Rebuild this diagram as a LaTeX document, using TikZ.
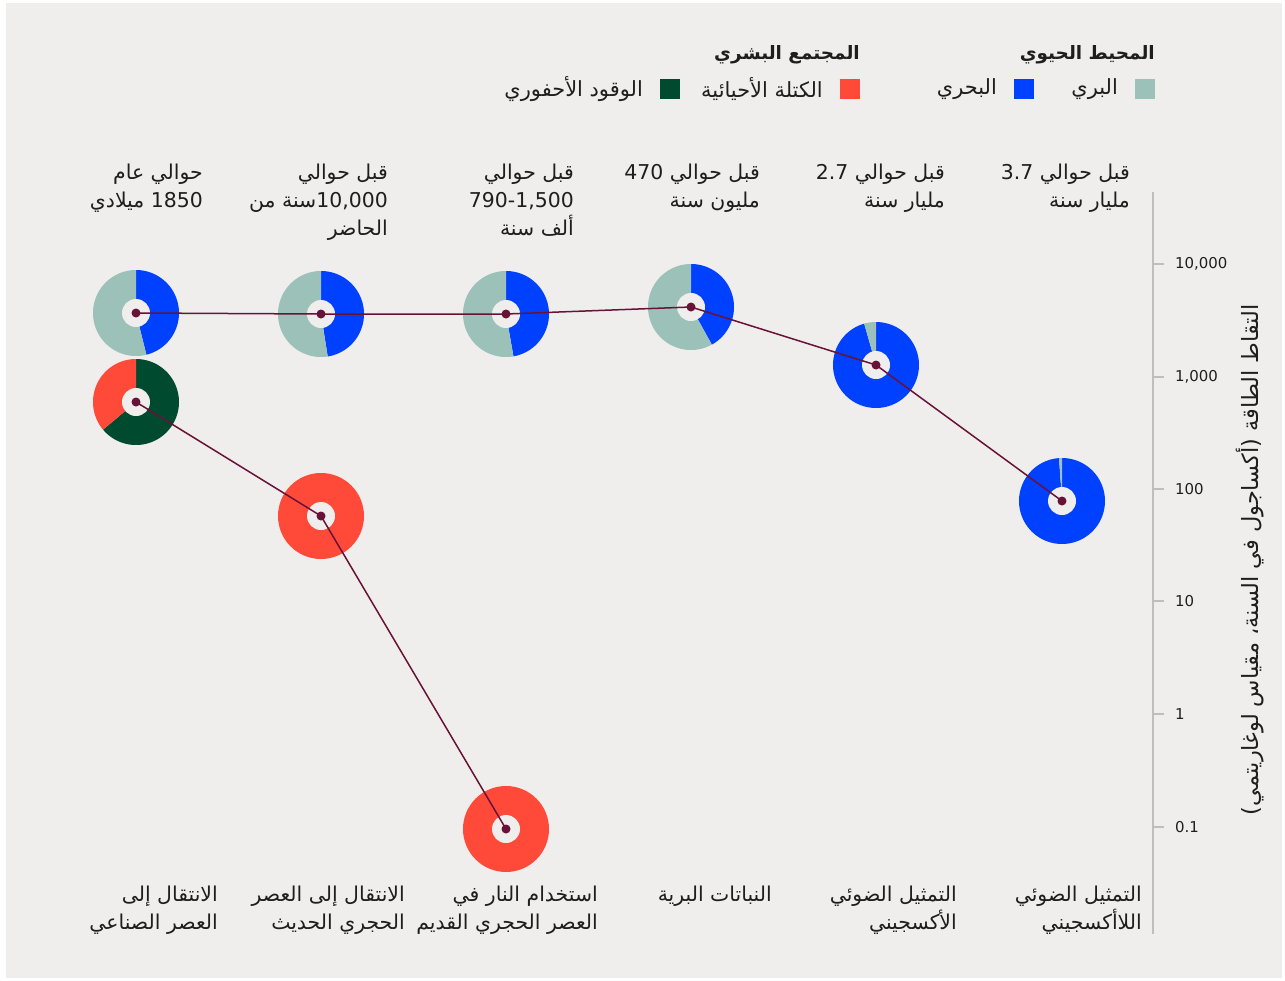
\documentclass[tikz,border=0pt]{standalone}
\usepackage{fontspec}
\setmainfont{DejaVu Sans}
\newfontfamily\arabicfont[Script=Arabic]{DejaVu Sans}
\TeXXeTstate=1
\newcommand\rl[1]{\beginR #1\endR}
\definecolor{bgc}{RGB}{239,238,236}
\definecolor{landc}{RGB}{156,193,185}
\definecolor{seac}{RGB}{0,65,255}
\definecolor{biomassc}{RGB}{255,74,58}
\definecolor{fossilc}{RGB}{0,74,48}
\definecolor{linec}{RGB}{104,18,56}
\definecolor{axisc}{RGB}{190,190,190}
\definecolor{txtc}{RGB}{30,30,30}
% annular sector: centre x, centre y, start angle, end angle, colour
% (angles in the flipped frame: -90 is straight up, increasing clockwise)
\newcommand\piesector[5]{%
  \fill[#5] plot[domain=#3:#4, samples=90, variable=\t]
    ({#1+43*cos(\t)},{#2+43*sin(\t)}) -- (#1,#2) -- cycle;}
\begin{document}
\begin{tikzpicture}[x=1bp,y=-1bp,
  lbl/.style={font=\arabicfont\fontsize{20.5}{28}\selectfont, text=txtc, align=right, inner sep=0pt},
  legtitle/.style={font=\arabicfont\bfseries\fontsize{18.5}{24}\selectfont, text=txtc, inner sep=0pt, anchor=east},
  legtext/.style={font=\arabicfont\fontsize{21}{24}\selectfont, text=txtc, inner sep=0pt, anchor=east},
  swatch/.style={minimum size=20bp, inner sep=0pt, draw=none},
  ticklbl/.style={font=\fontsize{15}{20}\selectfont, text=txtc, inner sep=0pt, anchor=west},
  dot/.style={circle, fill=linec, minimum size=9bp, inner sep=0pt},
  hole/.style={circle, fill=bgc, minimum size=28bp, inner sep=0pt},
  link/.style={draw=linec, line width=1.5bp}]
\useasboundingbox (0,0) rectangle (1285,981);
\fill[white] (0,0) rectangle (1285,981);
\fill[bgc] (6,3) rectangle (1282,978);

% ---- legend ----
\node[legtitle] (bioTitle) at (1155,55) {\rl{المحيط الحيوي}};
\node[legtitle] (humTitle) at (860,55) {\rl{المجتمع البشري}};
\node[swatch, fill=landc] (swLand) at (1145,89) {};
\node[legtext] (tLand) at (1118,89) {\rl{البري}};
\node[swatch, fill=seac] (swSea) at (1024,89) {};
\node[legtext] (tSea) at (997,89) {\rl{البحري}};
\node[swatch, fill=biomassc] (swBio) at (850,89) {};
\node[legtext] (tBio) at (823,89) {\rl{الكتلة الأحيائية}};
\node[swatch, fill=fossilc] (swFos) at (670,89) {};
\node[legtext] (tFos) at (643,89) {\rl{الوقود الأحفوري}};

% ---- time labels ----
\node[lbl, anchor=north east] (top1) at (203,164) {\rl{حوالي عام}\\\rl{1850 ميلادي}};
\node[lbl, anchor=north east] (top2) at (388,164) {\rl{قبل حوالي}\\\rl{10,000سنة من}\\\rl{الحاضر}};
\node[lbl, anchor=north east] (top3) at (574,164) {\rl{قبل حوالي}\\\beginL 790-1,500\endL\\\rl{ألف سنة}};
\node[lbl, anchor=north east] (top4) at (760,164) {\rl{قبل حوالي 470}\\\rl{مليون سنة}};
\node[lbl, anchor=north east] (top5) at (945,164) {\rl{قبل حوالي 2.7}\\\rl{مليار سنة}};
\node[lbl, anchor=north east] (top6) at (1130,164) {\rl{قبل حوالي 3.7}\\\rl{مليار سنة}};

% ---- event labels ----
\node[lbl, anchor=north east] (ev1) at (218,886) {\rl{الانتقال إلى}\\\rl{العصر الصناعي}};
\node[lbl, anchor=north east] (ev2) at (405,886) {\rl{الانتقال إلى العصر}\\\rl{الحجري الحديث}};
\node[lbl, anchor=north east] (ev3) at (598,886) {\rl{استخدام النار في}\\\rl{العصر الحجري القديم}};
\node[lbl, anchor=north east] (ev4) at (772,886) {\rl{النباتات البرية}};
\node[lbl, anchor=north east] (ev5) at (957,886) {\rl{التمثيل الضوئي}\\\rl{الأكسجيني}};
\node[lbl, anchor=north east] (ev6) at (1142,886) {\rl{التمثيل الضوئي}\\\rl{اللاأكسجيني}};

% ---- logarithmic axis ----
\draw[axisc, line width=1.3bp] (1153,192) -- (1153,934);
\foreach \yy/\val/\nm in {264/{10,000}/a4, 377/{1,000}/a3, 489/100/a2, 601/10/a1, 714/1/a0, 827/0.1/am}{
  \draw[axisc, line width=1.3bp] (1153,\yy) -- (1164,\yy);
  \node[ticklbl] (tick\nm) at (1175,\yy) {\val};
}
\node[font=\arabicfont\fontsize{22.5}{24}\selectfont, text=txtc, rotate=90, inner sep=0pt] (axTitle) at (1250,560)
  {\rl{التقاط الطاقة (أكساجول في السنة، مقياس لوغاريتمي)}};

% ---- biosphere pies ----
\coordinate (b1) at (136,313);
\coordinate (b2) at (321,314);
\coordinate (b3) at (506,314);
\coordinate (b4) at (691,307);
\coordinate (b5) at (876,365);
\coordinate (b6) at (1062,501);
\piesector{136}{313}{-90}{76}{seac}   \piesector{136}{313}{76}{270}{landc}
\piesector{321}{314}{-90}{81}{seac}   \piesector{321}{314}{81}{270}{landc}
\piesector{506}{314}{-90}{80}{seac}   \piesector{506}{314}{80}{270}{landc}
\piesector{691}{307}{-90}{61}{seac}   \piesector{691}{307}{61}{270}{landc}
\piesector{876}{365}{-90}{254}{seac}  \piesector{876}{365}{254}{270}{landc}
\piesector{1062}{501}{-90}{266}{seac} \piesector{1062}{501}{266}{270}{landc}

% ---- human society pies ----
\coordinate (h1) at (136,402);
\coordinate (h2) at (321,516);
\coordinate (h3) at (506,829);
\piesector{136}{402}{-90}{140}{fossilc} \piesector{136}{402}{140}{270}{biomassc}
\fill[biomassc] (h2) circle[radius=43bp];
\fill[biomassc] (h3) circle[radius=43bp];

% centre holes
\foreach \c in {b1,b2,b3,b4,b5,b6,h1,h2,h3} \node[hole] at (\c) {};

% ---- connecting lines ----
\draw[link] (b1) -- (b2) -- (b3) -- (b4) -- (b5) -- (b6);
\draw[link] (h1) -- (h2) -- (h3);
\foreach \c in {b1,b2,b3,b4,b5,b6,h1,h2,h3} \node[dot] (d\c) at (\c) {};
\end{tikzpicture}
\end{document}
